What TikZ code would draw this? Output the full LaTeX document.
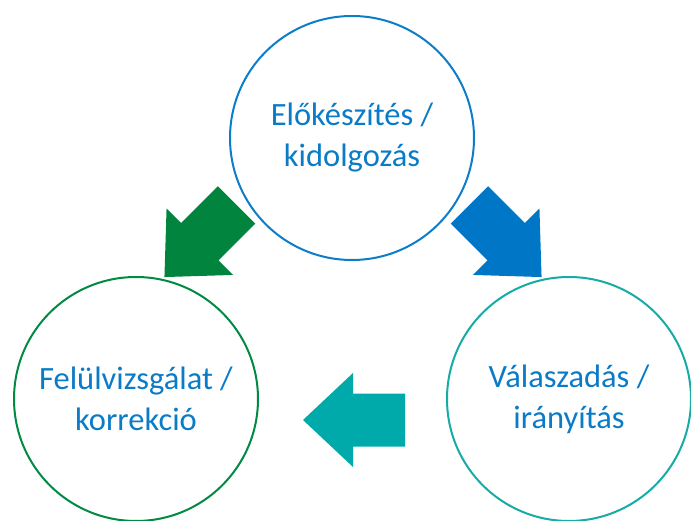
\documentclass[tikz,border=0pt]{standalone}
\usepackage{fontspec}
\setmainfont{Carlito}
\usepackage{xcolor}
\definecolor{textblue}{HTML}{0A7BC6}
\definecolor{phaseblue}{HTML}{0B7DC9}
\definecolor{phasegreen}{HTML}{008A43}
\definecolor{phaseteal}{HTML}{17ABA6}
\definecolor{arrowblue}{HTML}{0077C6}
\definecolor{arrowgreen}{HTML}{00843E}
\definecolor{arrowteal}{HTML}{00AAAA}
\tikzset{phase/.style={draw,circle,line width=2pt,minimum size=244pt,inner sep=0pt,
    align=center,text=textblue,font=\fontsize{32.5}{41}\selectfont},
    blockarrow/.pic={\fill (-51,-26.5) -- (1,-26.5) -- (1,-47) -- (51,0)
        -- (1,47) -- (1,26.5) -- (-51,26.5) -- cycle;}}

\begin{document}
\begin{tikzpicture}[x=1pt,y=-1pt]
	\useasboundingbox (0,0) rectangle (691,521);
	% the three phases
	\node[phase,draw=phaseblue] (elok) at (352,138) {Előkészítés /\\kidolgozás};
	\node[phase,draw=phasegreen] (felul) at (136,399) {Felülvizsgálat /\\korrekció};
	\node[phase,draw=phaseteal] (valasz) at (569,399) {Válaszadás /\\irányítás};
	% block arrows between them
	\pic[fill=arrowgreen,rotate=225] (togreen) at (200.5,241) {blockarrow};
	\pic[fill=arrowblue,rotate=-45] (toblue) at (505.5,241) {blockarrow};
	\pic[fill=arrowteal,rotate=180] (toteal) at (354,420) {blockarrow};
\end{tikzpicture}
\end{document}
